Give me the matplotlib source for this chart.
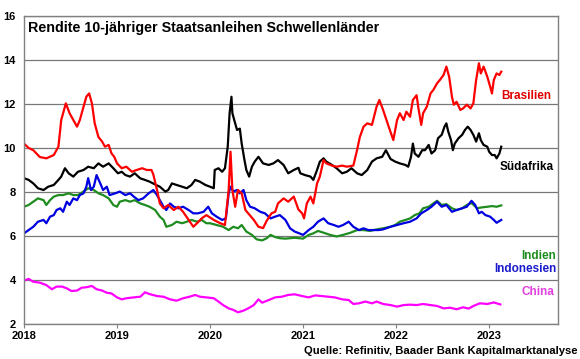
import matplotlib

matplotlib.use("Agg")

import matplotlib.pyplot as plt

plt.rcParams["font.family"] = ["Liberation Sans", "DejaVu Sans"]
plt.rcParams["font.weight"] = "bold"

# decimal years and yields (%)
bra_t = [2018.00, 2018.05, 2018.10, 2018.17, 2018.24, 2018.32, 2018.37, 2018.40, 2018.45, 2018.49,
         2018.53, 2018.57, 2018.60, 2018.64, 2018.67, 2018.70, 2018.73, 2018.76, 2018.80, 2018.84,
         2018.87, 2018.91, 2018.94, 2018.97, 2019.00, 2019.05, 2019.10, 2019.16, 2019.21, 2019.27,
         2019.32, 2019.37, 2019.39, 2019.43, 2019.46, 2019.50, 2019.55, 2019.61, 2019.66, 2019.71,
         2019.77, 2019.82, 2019.86, 2019.91, 2019.96, 2020.04, 2020.11, 2020.16, 2020.20, 2020.22,
         2020.24, 2020.27, 2020.30, 2020.34, 2020.38, 2020.41, 2020.47, 2020.52, 2020.57, 2020.61,
         2020.66, 2020.70, 2020.73, 2020.79, 2020.84, 2020.90, 2020.95, 2020.99, 2021.01, 2021.04,
         2021.08, 2021.11, 2021.15, 2021.18, 2021.22, 2021.25, 2021.31, 2021.36, 2021.42, 2021.47,
         2021.54, 2021.58, 2021.61, 2021.65, 2021.69, 2021.74, 2021.79, 2021.82, 2021.86, 2021.92,
         2021.97, 2022.01, 2022.04, 2022.08, 2022.11, 2022.15, 2022.18, 2022.22, 2022.24, 2022.27,
         2022.29, 2022.33, 2022.37, 2022.40, 2022.44, 2022.47, 2022.51, 2022.54, 2022.57, 2022.60,
         2022.62, 2022.65, 2022.69, 2022.72, 2022.76, 2022.80, 2022.83, 2022.86, 2022.89, 2022.91,
         2022.94, 2022.98, 2023.01, 2023.03, 2023.05, 2023.08, 2023.11, 2023.13]
bra_y = [10.2, 10.0, 9.9, 9.59, 9.53, 9.68, 10.06, 11.27, 12.03, 11.58,
         11.27, 10.97, 11.27, 11.88, 12.33, 12.48, 12.03, 11.12, 10.5, 10.29,
         10.06, 10.14, 9.76, 9.6, 9.3, 9.08, 9.15, 8.92, 9.0, 9.08,
         9.0, 9.0, 8.8, 8.09, 7.48, 7.26, 7.41, 7.18, 7.33, 7.1,
         6.73, 6.42, 6.58, 6.8, 6.95, 6.73, 6.58, 6.5, 8.09, 9.83,
         8.09, 7.33, 8.09, 7.94, 7.18, 7.03, 6.73, 6.42, 6.36, 6.7,
         7.03, 7.1, 7.48, 7.71, 7.56, 7.79, 7.2, 7.03, 6.8, 7.48,
         7.79, 7.48, 8.39, 8.7, 9.45, 9.3, 9.2, 9.15, 9.2, 9.15,
         9.2, 9.9, 10.5, 10.97, 11.12, 11.05, 11.88, 12.18, 11.73, 10.97,
         10.36, 11.27, 11.58, 11.27, 11.65, 11.42, 12.18, 12.4, 11.8, 11.05,
         11.58, 11.88, 12.48, 12.64, 12.94, 13.09, 13.32, 13.7, 13.24, 12.33,
         11.97, 12.1, 11.73, 11.8, 11.97, 11.8, 12.03, 13.09, 13.85, 13.39,
         13.7, 13.24, 12.8, 12.48, 13.09, 13.39, 13.32, 13.47]

zaf_t = [2018.00, 2018.05, 2018.10, 2018.15, 2018.21, 2018.26, 2018.32, 2018.37, 2018.40, 2018.44,
         2018.48, 2018.53, 2018.58, 2018.64, 2018.69, 2018.75, 2018.80, 2018.85, 2018.91, 2018.96,
         2019.01, 2019.05, 2019.09, 2019.14, 2019.19, 2019.25, 2019.30, 2019.35, 2019.42, 2019.46,
         2019.52, 2019.55, 2019.59, 2019.64, 2019.70, 2019.75, 2019.80, 2019.84, 2019.89, 2019.95,
         2020.00, 2020.04, 2020.05, 2020.09, 2020.13, 2020.16, 2020.19, 2020.21, 2020.23, 2020.24,
         2020.26, 2020.29, 2020.32, 2020.34, 2020.37, 2020.39, 2020.42, 2020.45, 2020.48, 2020.52,
         2020.57, 2020.63, 2020.68, 2020.73, 2020.79, 2020.84, 2020.90, 2020.95, 2020.97, 2021.02,
         2021.08, 2021.11, 2021.15, 2021.18, 2021.22, 2021.25, 2021.31, 2021.36, 2021.42, 2021.47,
         2021.52, 2021.58, 2021.63, 2021.69, 2021.74, 2021.79, 2021.85, 2021.89, 2021.94, 2021.99,
         2022.04, 2022.10, 2022.13, 2022.16, 2022.18, 2022.20, 2022.24, 2022.28, 2022.31, 2022.35,
         2022.38, 2022.42, 2022.45, 2022.49, 2022.52, 2022.54, 2022.56, 2022.59, 2022.61, 2022.63,
         2022.67, 2022.71, 2022.74, 2022.77, 2022.80, 2022.83, 2022.86, 2022.89, 2022.91, 2022.94,
         2022.98, 2023.00, 2023.03, 2023.06, 2023.08, 2023.11, 2023.13]
zaf_y = [8.63, 8.55, 8.39, 8.17, 8.09, 8.24, 8.32, 8.55, 8.7, 9.08,
         8.85, 8.7, 8.92, 9.0, 9.15, 9.08, 9.3, 9.15, 9.3, 9.08,
         8.85, 8.92, 8.77, 8.7, 8.85, 8.62, 8.55, 8.47, 8.32, 8.24,
         8.02, 8.09, 8.39, 8.32, 8.24, 8.17, 8.32, 8.55, 8.47, 8.32,
         8.24, 8.17, 9.0, 9.08, 8.92, 9.08, 10.06, 11.58, 12.33, 11.58,
         11.27, 10.82, 10.88, 10.2, 9.45, 9.0, 8.7, 9.15, 9.38, 9.6,
         9.3, 9.23, 9.3, 9.45, 9.23, 8.85, 9.0, 9.1, 8.85, 8.77,
         8.7, 8.55, 9.0, 9.38, 9.53, 9.38, 9.23, 9.08, 8.85, 8.92,
         9.08, 8.85, 8.77, 9.0, 9.38, 9.53, 9.6, 9.9, 9.5, 9.38,
         9.3, 9.23, 9.15, 9.6, 10.2, 9.75, 9.6, 9.9, 9.9, 10.14,
         9.75, 9.9, 10.44, 10.6, 10.97, 11.12, 10.75, 10.36, 9.9, 10.2,
         10.44, 10.6, 10.82, 10.97, 10.82, 10.6, 10.29, 10.67, 10.36, 10.14,
         10.06, 9.83, 9.68, 9.68, 9.53, 9.75, 10.06]

ind_t = [2018.00, 2018.05, 2018.10, 2018.15, 2018.21, 2018.24, 2018.28, 2018.32, 2018.37, 2018.42,
         2018.48, 2018.53, 2018.58, 2018.64, 2018.69, 2018.75, 2018.80, 2018.85, 2018.91, 2018.96,
         2019.00, 2019.03, 2019.09, 2019.14, 2019.19, 2019.25, 2019.30, 2019.35, 2019.41, 2019.46,
         2019.50, 2019.53, 2019.59, 2019.64, 2019.70, 2019.75, 2019.80, 2019.86, 2019.91, 2019.96,
         2020.00, 2020.07, 2020.14, 2020.20, 2020.25, 2020.30, 2020.34, 2020.39, 2020.45, 2020.50,
         2020.56, 2020.61, 2020.65, 2020.70, 2020.75, 2020.81, 2020.86, 2020.91, 2021.00, 2021.06,
         2021.11, 2021.16, 2021.22, 2021.29, 2021.36, 2021.43, 2021.51, 2021.58, 2021.65, 2021.72,
         2021.79, 2021.86, 2021.94, 2021.99, 2022.04, 2022.10, 2022.15, 2022.20, 2022.25, 2022.29,
         2022.35, 2022.40, 2022.44, 2022.49, 2022.54, 2022.60, 2022.65, 2022.71, 2022.76, 2022.81,
         2022.87, 2022.92, 2022.98, 2023.03, 2023.08, 2023.13]
ind_y = [7.33, 7.41, 7.56, 7.71, 7.63, 7.41, 7.63, 7.79, 7.86, 7.86,
         7.94, 7.86, 7.86, 8.02, 8.17, 8.09, 7.94, 7.86, 7.71, 7.41,
         7.33, 7.56, 7.63, 7.56, 7.63, 7.48, 7.41, 7.33, 7.18, 6.88,
         6.73, 6.42, 6.5, 6.65, 6.58, 6.65, 6.73, 6.65, 6.73, 6.58,
         6.58, 6.5, 6.42, 6.27, 6.42, 6.35, 6.5, 6.2, 6.05, 5.85,
         5.8, 5.9, 6.05, 5.95, 5.9, 5.88, 5.9, 5.92, 5.88, 6.05,
         6.12, 6.23, 6.15, 6.05, 5.98, 6.05, 6.15, 6.27, 6.27, 6.23,
         6.3, 6.35, 6.42, 6.5, 6.65, 6.73, 6.8, 6.95, 7.03, 7.26,
         7.33, 7.48, 7.6, 7.41, 7.45, 7.26, 7.18, 7.26, 7.41, 7.5,
         7.26, 7.3, 7.33, 7.36, 7.33, 7.39]

idn_t = [2018.00, 2018.05, 2018.10, 2018.15, 2018.21, 2018.24, 2018.28, 2018.32, 2018.35, 2018.39,
         2018.42, 2018.46, 2018.49, 2018.53, 2018.57, 2018.60, 2018.64, 2018.67, 2018.69, 2018.72,
         2018.75, 2018.78, 2018.82, 2018.85, 2018.89, 2018.92, 2018.98, 2019.03, 2019.09, 2019.14,
         2019.18, 2019.23, 2019.28, 2019.34, 2019.39, 2019.43, 2019.46, 2019.50, 2019.53, 2019.57,
         2019.61, 2019.66, 2019.71, 2019.77, 2019.82, 2019.87, 2019.93, 2019.98, 2020.02, 2020.07,
         2020.13, 2020.17, 2020.20, 2020.22, 2020.25, 2020.29, 2020.32, 2020.36, 2020.39, 2020.43,
         2020.48, 2020.54, 2020.59, 2020.65, 2020.70, 2020.75, 2020.81, 2020.86, 2020.91, 2020.96,
         2021.00, 2021.06, 2021.11, 2021.16, 2021.22, 2021.27, 2021.33, 2021.38, 2021.43, 2021.49,
         2021.54, 2021.60, 2021.65, 2021.70, 2021.76, 2021.81, 2021.86, 2021.94, 2022.01, 2022.08,
         2022.15, 2022.22, 2022.27, 2022.33, 2022.38, 2022.44, 2022.49, 2022.54, 2022.60, 2022.65,
         2022.71, 2022.76, 2022.81, 2022.85, 2022.89, 2022.92, 2022.96, 2023.01, 2023.05, 2023.08,
         2023.13]
idn_y = [6.12, 6.27, 6.42, 6.65, 6.73, 6.58, 6.88, 6.95, 7.18, 7.26,
         7.1, 7.56, 7.41, 7.71, 7.63, 7.86, 7.94, 8.24, 8.63, 8.09,
         8.24, 8.77, 8.39, 8.09, 8.24, 7.86, 7.94, 8.02, 7.86, 7.94,
         7.79, 7.63, 7.71, 7.94, 8.09, 7.86, 7.63, 7.33, 7.18, 7.48,
         7.33, 7.26, 7.33, 7.18, 7.03, 7.03, 7.1, 7.33, 7.03, 6.88,
         6.73, 6.8, 7.94, 8.24, 8.02, 8.09, 7.94, 8.09, 7.63, 7.33,
         7.26, 7.1, 7.03, 6.8, 6.88, 6.95, 6.73, 6.35, 6.2, 6.12,
         6.05, 6.27, 6.42, 6.65, 6.8, 6.58, 6.5, 6.42, 6.5, 6.65,
         6.42, 6.27, 6.35, 6.27, 6.27, 6.27, 6.3, 6.42, 6.5, 6.58,
         6.65, 6.8, 7.03, 7.18, 7.33, 7.56, 7.33, 7.41, 7.1, 7.18,
         7.26, 7.33, 7.6, 7.41, 7.03, 7.1, 6.95, 6.88, 6.73, 6.6,
         6.73]

chn_t = [2018.00, 2018.05, 2018.10, 2018.17, 2018.24, 2018.30, 2018.35, 2018.41, 2018.46, 2018.51,
         2018.57, 2018.62, 2018.67, 2018.73, 2018.78, 2018.84, 2018.89, 2018.94, 2019.00, 2019.05,
         2019.10, 2019.18, 2019.25, 2019.30, 2019.35, 2019.43, 2019.50, 2019.57, 2019.64, 2019.71,
         2019.78, 2019.84, 2019.89, 2019.96, 2020.04, 2020.09, 2020.14, 2020.20, 2020.25, 2020.30,
         2020.36, 2020.41, 2020.47, 2020.52, 2020.56, 2020.63, 2020.70, 2020.77, 2020.84, 2020.91,
         2020.99, 2021.06, 2021.13, 2021.20, 2021.27, 2021.34, 2021.42, 2021.49, 2021.54, 2021.60,
         2021.67, 2021.74, 2021.79, 2021.86, 2021.94, 2022.01, 2022.08, 2022.15, 2022.22, 2022.29,
         2022.37, 2022.44, 2022.51, 2022.58, 2022.65, 2022.72, 2022.78, 2022.83, 2022.90, 2022.98,
         2023.05, 2023.08, 2023.12]
chn_y = [3.97, 4.05, 3.92, 3.88, 3.77, 3.58, 3.7, 3.7, 3.62, 3.5,
         3.52, 3.65, 3.67, 3.73, 3.58, 3.52, 3.42, 3.39, 3.21, 3.12,
         3.17, 3.21, 3.24, 3.44, 3.36, 3.27, 3.24, 3.12, 3.06, 3.17,
         3.24, 3.32, 3.24, 3.21, 3.17, 3.02, 2.86, 2.71, 2.64, 2.53,
         2.61, 2.71, 2.86, 3.12, 2.97, 3.09, 3.21, 3.24, 3.32, 3.35,
         3.27, 3.21, 3.3, 3.27, 3.24, 3.21, 3.12, 3.09, 2.91, 2.94,
         3.02, 2.94, 3.02, 2.91, 2.86, 2.79, 2.86, 2.88, 2.86, 2.91,
         2.86, 2.82, 2.71, 2.74, 2.67, 2.76, 2.7, 2.82, 2.94, 2.91,
         2.98, 2.94, 2.89]

year_ticks = [2018, 2019, 2020, 2021, 2022, 2023]
yield_ticks = [2, 4, 6, 8, 10, 12, 14, 16]

fig = plt.figure(figsize=(5.8, 3.59), dpi=100)
ax = fig.add_axes([24 / 580, 35 / 359, 534 / 580, 308 / 359])

lw = 1.6
ax.plot(chn_t, chn_y, color="#ff00ff", lw=lw)
ax.plot(ind_t, ind_y, color="#1e8c1e", lw=lw)
ax.plot(idn_t, idn_y, color="#0000e0", lw=lw)
ax.plot(zaf_t, zaf_y, color="black", lw=lw)
ax.plot(bra_t, bra_y, color="#ff0000", lw=lw)

ax.set_xlim(2018, 2023.74)
ax.set_ylim(2, 16)
ax.set_xticks(year_ticks)
ax.set_xticklabels([str(y) for y in year_ticks], fontsize=8, fontweight="bold")
ax.set_yticks(yield_ticks)
ax.set_yticklabels([str(v) for v in yield_ticks], fontsize=8, fontweight="bold")
ax.tick_params(axis="x", length=3, width=0.8, color="#808080", pad=2)
ax.tick_params(axis="y", length=0, pad=6)
ax.grid(axis="y", color="#787878", lw=0.9)
ax.set_axisbelow(True)
for s in ax.spines.values():
    s.set_color("#808080")
    s.set_linewidth(1)

ax.text(0.0075, 0.961, "Rendite 10-jähriger Staatsanleihen Schwellenländer",
        transform=ax.transAxes, fontsize=10.3, fontweight="bold", va="center", ha="left")

lab_x = 2023.69
ax.text(lab_x - 0.02, 12.36, "Brasilien", color="#e00000", fontsize=8.5, fontweight="bold", ha="right", va="center")
ax.text(lab_x, 9.14, "Südafrika", color="black", fontsize=8.5, fontweight="bold", ha="right", va="center")
ax.text(lab_x + 0.03, 5.09, "Indien", color="#1e8c1e", fontsize=8.5, fontweight="bold", ha="right", va="center")
ax.text(lab_x + 0.03, 4.5, "Indonesien", color="#1a1acc", fontsize=8.5, fontweight="bold", ha="right", va="center")
ax.text(lab_x + 0.01, 3.45, "China", color="#e040e0", fontsize=8.5, fontweight="bold", ha="right", va="center")

fig.text(577 / 580, 1 - 350.5 / 359, "Quelle: Refinitiv, Baader Bank Kapitalmarktanalyse",
         fontsize=8.15, fontweight="bold", ha="right", va="center")

fig.savefig("out.png", dpi=100)
